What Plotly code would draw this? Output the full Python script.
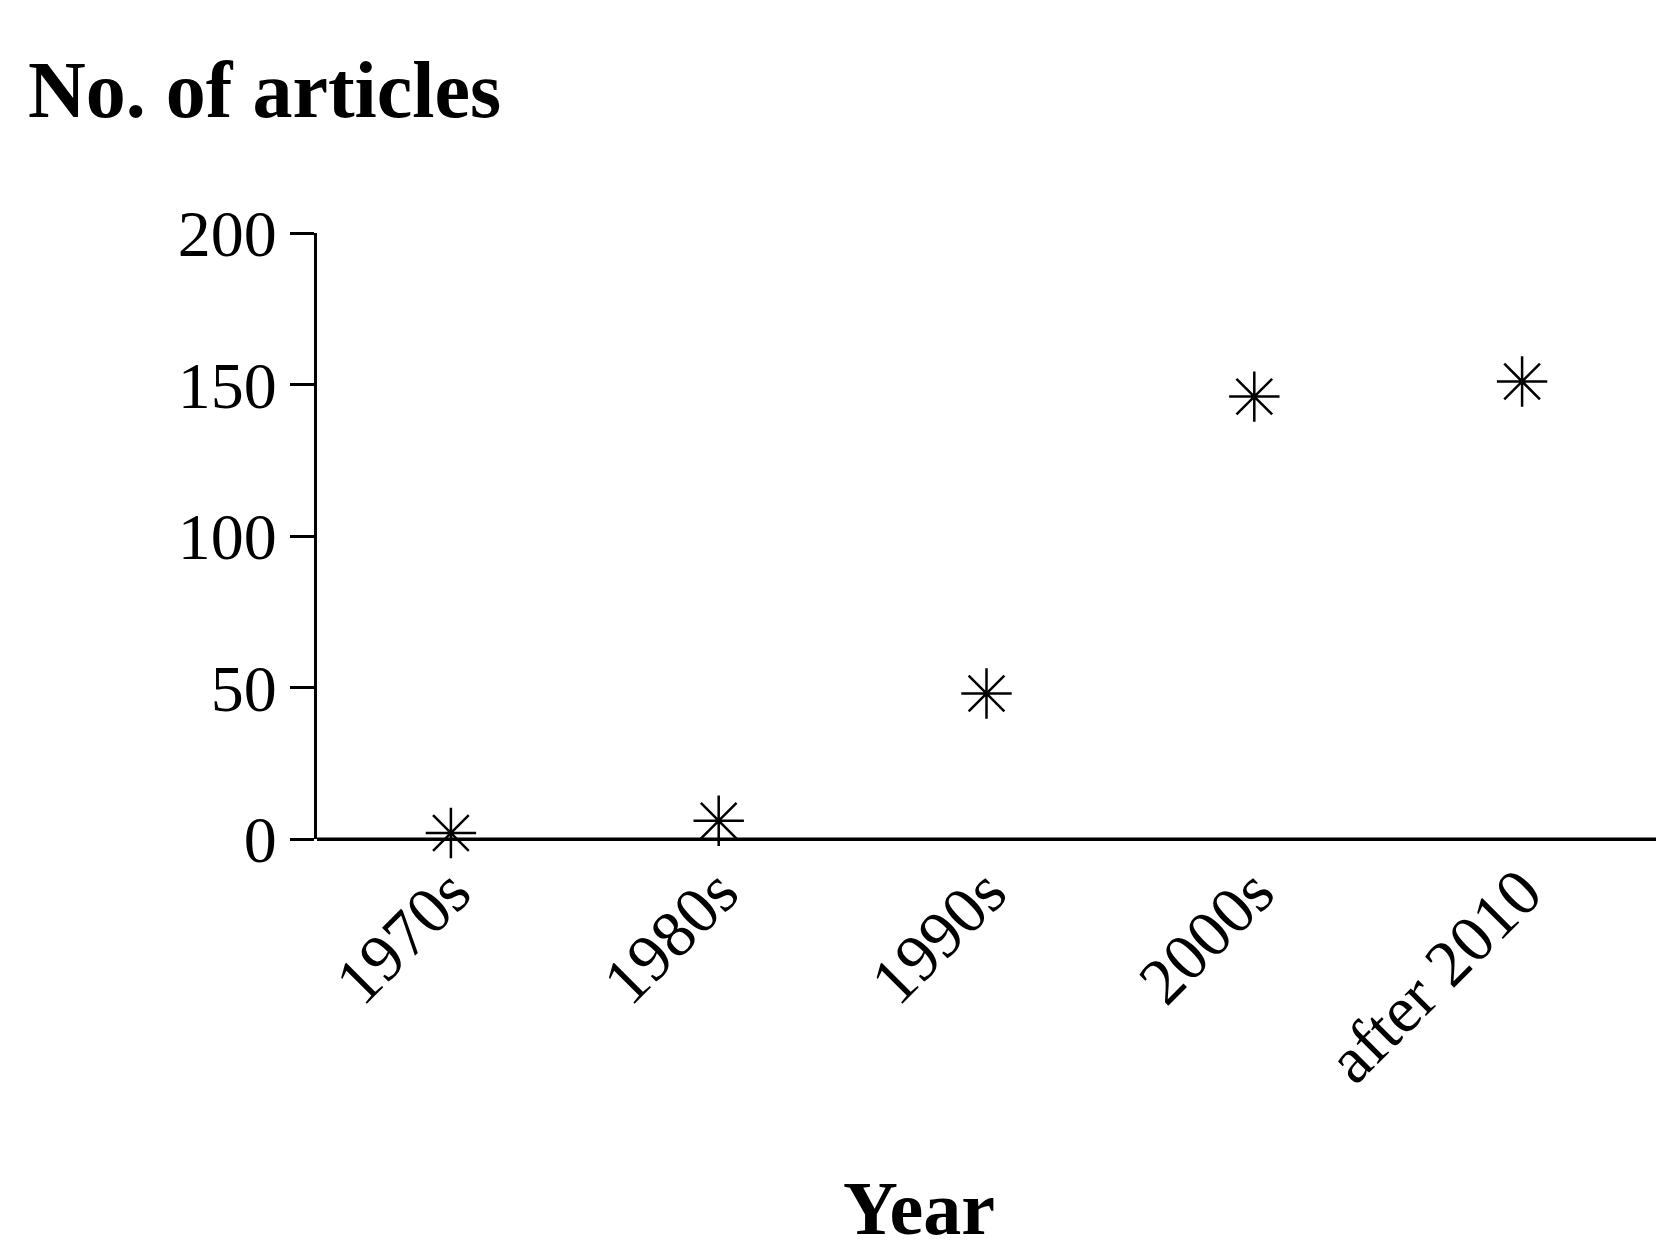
import plotly.graph_objects as go

categories = ["1970s", "1980s", "1990s", "2000s", "after 2010"]
articles = [2, 6, 48, 146, 151]
y_ticks = [0, 50, 100, 150, 200]

W, H = 1672, 1248
L, R, T, B = 309, 24, 225, 417

fig = go.Figure(go.Scatter(
    x=categories, y=articles, mode="markers",
    marker=dict(symbol="asterisk-open", size=42, color="black",
                line=dict(color="black", width=2.5)),
    cliponaxis=False, showlegend=False))

font = dict(family="Liberation Serif", color="black")
fig.update_layout(
    width=W, height=H, margin=dict(l=L, r=R, t=T, b=B),
    plot_bgcolor="white", paper_bgcolor="white",
    font=dict(**font, size=66),
    xaxis=dict(type="category", range=[-0.5, 4.5], showline=False, ticks="",
               tickangle=-45, showgrid=False, zeroline=False,
               tickfont=dict(**font, size=66)),
    yaxis=dict(range=[0, 200], tickvals=y_ticks, showline=True, linecolor="black",
               linewidth=3, ticks="outside", ticklen=24, tickwidth=3, tickcolor="black",
               showgrid=False, zeroline=True, zerolinecolor="black", zerolinewidth=3,
               tickfont=dict(**font, size=66)),
    annotations=[
        dict(text="<b>No. of articles</b>", xref="paper", yref="paper",
             x=-(L - 18) / (W - L - R), y=1 + (T - 82) / (H - T - B),
             xanchor="left", yanchor="middle", showarrow=False,
             font=dict(**font, size=80)),
        dict(text="<b>Year</b>", xref="paper", yref="paper",
             x=(911 - L) / (W - L - R), y=-(1200 - 831) / (H - T - B),
             xanchor="center", yanchor="middle", showarrow=False,
             font=dict(**font, size=76)),
    ],
)
fig.add_shape(type="line", xref="paper", yref="y", x0=0, x1=1, y0=0, y1=0,
              line=dict(color="black", width=3))
fig.write_html("out.html")
